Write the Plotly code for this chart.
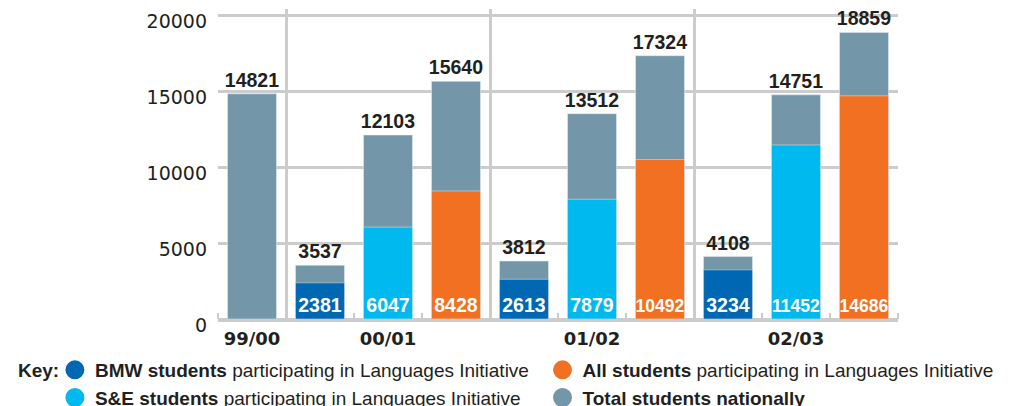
import plotly.graph_objects as go

# ---- data ----
years = ["99/00", "00/01", "01/02", "02/03"]
national_9900 = [14821]
bmw = [2381, 2613, 3234]
bmw_total = [3537, 3812, 4108]
se = [6047, 7879, 11452]
se_total = [12103, 13512, 14751]
all_students = [8428, 10492, 14686]
all_total = [15640, 17324, 18859]
y_ticks = [0, 5000, 10000, 15000, 20000]

# ---- styles ----
C_GRAY = "#7397A9"
C_BMW = "#0068B2"
C_SE = "#00B9EF"
C_ALL = "#F27022"
C_GRID = "#CCCCCC"
C_TEXT = "#231F20"
LBL_FONT = "Liberation Sans"
BAR_W = 0.72

# slot positions: slot 0 = 99/00, then groups of three (BMW, S&E, All)
n_groups = len(bmw)
pos_bmw = [1 + 3 * i for i in range(n_groups)]
pos_se = [2 + 3 * i for i in range(n_groups)]
pos_all = [3 + 3 * i for i in range(n_groups)]
pos_total = [0] + [p for i in range(n_groups) for p in (pos_bmw[i], pos_se[i], pos_all[i])]
totals = national_9900 + [v for i in range(n_groups) for v in (bmw_total[i], se_total[i], all_total[i])]
n_slots = len(pos_total)
year_pos = [0] + pos_se
group_bounds = [0.5] + [p + 0.5 for p in pos_all[:-1]]
slot_bounds = [i - 0.5 for i in range(n_slots + 1)]

fig = go.Figure()

fig.add_trace(go.Bar(
    x=pos_total, y=totals, width=BAR_W, marker_color=C_GRAY,
    text=[str(v) for v in totals], textposition="outside", textangle=0,
    constraintext="none", cliponaxis=False,
    textfont=dict(family=LBL_FONT, size=19.5, color=C_TEXT, weight="bold"),
    showlegend=False, hoverinfo="skip",
))

for xs, vals, col in [(pos_bmw, bmw, C_BMW), (pos_se, se, C_SE), (pos_all, all_students, C_ALL)]:
    labels = [str(v) for v in vals]
    sizes = [17.5 if len(s) > 4 else 19.5 for s in labels]
    fig.add_trace(go.Bar(
        x=xs, y=vals, width=BAR_W, marker_color=col,
        text=labels, textposition="inside", insidetextanchor="start",
        textangle=0, constraintext="none",
        textfont=dict(family=LBL_FONT, size=sizes, color="white", weight="bold"),
        showlegend=False, hoverinfo="skip",
    ))

# year labels on an overlaid axis
fig.add_trace(go.Scatter(
    x=year_pos, y=[0] * len(year_pos), xaxis="x2", mode="markers",
    marker=dict(opacity=0), showlegend=False, hoverinfo="skip",
))

# legend entries (circles), two columns as two legends
legend_items = [
    ("<b>BMW students</b> participating in Languages Initiative", C_BMW, "legend"),
    ("<b>S&E students</b> participating in Languages Initiative", C_SE, "legend"),
    ("<b>All students</b> participating in Languages Initiative", C_ALL, "legend2"),
    ("<b>Total students nationally</b>", C_GRAY, "legend2"),
]
for name, col, lg in legend_items:
    fig.add_trace(go.Scatter(
        x=[None], y=[None], mode="markers", name=name, legend=lg,
        marker=dict(symbol="circle", size=16, color=col, line=dict(color=col, width=3)),
    ))

leg_font = dict(family="Liberation Sans", size=19, color=C_TEXT)

# "Key:" label
fig.add_annotation(
    text="<b>Key:</b>", xref="paper", yref="paper", x=-0.297, y=-0.167,
    xanchor="left", yanchor="middle", showarrow=False, font=leg_font,
)

fig.update_layout(
    width=1011, height=398,
    margin=dict(l=210, r=121, t=1, b=87, autoexpand=False),
    paper_bgcolor="white", plot_bgcolor="white",
    barmode="overlay",
    font=dict(family="Liberation Sans", color=C_TEXT),
    xaxis=dict(
        range=[-0.5, n_slots - 0.5], tickmode="array", tickvals=group_bounds,
        showticklabels=False, ticks="", showgrid=True, gridcolor=C_GRID, gridwidth=3,
        showline=True, linecolor=C_GRID, linewidth=3, zeroline=False, automargin=False,
        minor=dict(tickmode="array", tickvals=slot_bounds, ticks="inside",
                   ticklen=6, tickcolor=C_GRID, tickwidth=2, showgrid=False),
    ),
    xaxis2=dict(
        overlaying="x", range=[-0.5, n_slots - 0.5], tickmode="array",
        tickvals=year_pos, ticktext=years, showgrid=False, ticks="",
        zeroline=False, showline=False, side="bottom", ticklabelstandoff=7,
        automargin=False, ticklabeloverflow="allow",
        tickfont=dict(family="DejaVu Sans", size=18, color=C_TEXT, weight="bold"),
    ),
    yaxis=dict(
        range=[0, 20400], tickmode="array", tickvals=y_ticks,
        ticktext=[str(v) for v in y_ticks],
        showgrid=True, gridcolor=C_GRID, gridwidth=3,
        zeroline=True, zerolinecolor=C_GRID, zerolinewidth=3,
        ticks="", ticklabelstandoff=10, ticklabelshift=6, automargin=False,
        ticklabeloverflow="allow",
        tickfont=dict(family="DejaVu Sans", size=19, color=C_TEXT),
    ),
    showlegend=True,
    legend=dict(
        orientation="v", xref="container", yref="container",
        x=0.0464, xanchor="left", y=0.1382, yanchor="top",
        font=leg_font, tracegroupgap=0,
        traceorder="normal", itemclick=False, itemdoubleclick=False,
        bgcolor="rgba(0,0,0,0)",
    ),
    legend2=dict(
        orientation="v", xref="container", yref="container",
        x=0.5287, xanchor="left", y=0.1382, yanchor="top",
        font=leg_font, tracegroupgap=0,
        traceorder="normal", itemclick=False, itemdoubleclick=False,
        bgcolor="rgba(0,0,0,0)",
    ),
)

fig.write_html("out.html")
